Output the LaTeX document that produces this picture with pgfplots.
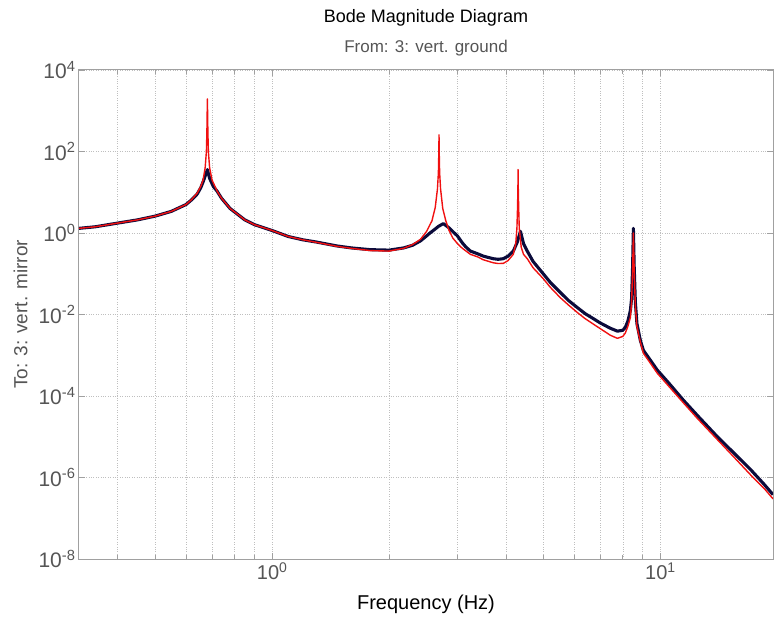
\documentclass[border=0pt]{standalone}
\usepackage{pgfplots}
\pgfplotsset{compat=1.18}
\usepackage{fontspec}
\setmainfont{Liberation Sans}
\definecolor{navy}{HTML}{0B0B3B}
\definecolor{redline}{HTML}{F01010}
\definecolor{txtgray}{HTML}{555555}
\definecolor{axgray}{HTML}{A0A0A0}
\begin{document}
\begin{tikzpicture}
\begin{axis}[
  name=ax,
  scale only axis,
  width=694pt, height=489pt,
  xmode=log, ymode=log,
  xmin=0.318, xmax=19.5, ymin=1e-8, ymax=1e4,
  xtick={1,10},
  xticklabels={10\textsuperscript{0},10\textsuperscript{1}},
  minor xtick={0.4,0.5,0.6,0.7,0.8,0.9,2,3,4,5,6,7,8,9},
  ytick={1e-8,1e-6,1e-4,1e-2,1,1e2,1e4},
  yticklabels={10\textsuperscript{-8},10\textsuperscript{-6},10\textsuperscript{-4},10\textsuperscript{-2},10\textsuperscript{0},10\textsuperscript{2},10\textsuperscript{4}},
  yminorticks=false,
  xmajorgrids, xminorgrids, ymajorgrids,
  grid style={dotted, gray!50},
  minor grid style={dotted, gray!50},
  axis line style={axgray, line width=1pt},
  tick style={axgray, line width=0.8pt},
  tick align=inside,
  major tick length=6pt, minor tick length=4pt,
  tick label style={font=\fontsize{20}{20}\selectfont, text=txtgray},
  yticklabel style={font=\fontsize{21}{21}\selectfont},
  xlabel={Frequency (Hz)},
  xlabel style={font=\fontsize{20}{20}\selectfont, text=black, yshift=-8pt},
  ylabel={To: 3: vert. mirror},
  ylabel style={font=\fontsize{19}{19}\selectfont, text=txtgray, yshift=4pt},
  title={Bode Magnitude Diagram\\[12pt]{\color{txtgray}\fontsize{17}{17}\selectfont From: 3: vert. ground}},
  title style={font=\fontsize{18}{18}\selectfont, align=center, yshift=4pt},
]
\addplot[navy, line width=3.1pt, line join=round] coordinates {
(0.318,1.30) (0.35,1.42) (0.4,1.75) (0.45,2.1) (0.5,2.6) (0.55,3.4) (0.6,5.0) (0.62,6.5)
(0.641,9.0) (0.655,13) (0.664,18) (0.674,27) (0.681,36)
(0.69,22) (0.705,14) (0.722,10.5) (0.74,7.2) (0.76,5.3) (0.779,4.0) (0.81,3.0) (0.85,2.1) (0.9,1.6)
(0.95,1.35) (1.0,1.15) (1.1,0.82) (1.2,0.68) (1.3,0.60) (1.47,0.48) (1.6,0.43) (1.79,0.39) (2.0,0.38)
(2.18,0.43) (2.3,0.5) (2.41,0.64) (2.48,0.8) (2.55,1.0) (2.62,1.22)
(2.68,1.45) (2.76,1.70) (2.85,1.35) (2.92,1.08) (3.0,0.85) (3.09,0.57) (3.15,0.46) (3.24,0.36)
(3.38,0.31) (3.5,0.27) (3.71,0.234) (3.82,0.226)
(3.94,0.234) (4.05,0.27) (4.18,0.36) (4.28,0.6) (4.36,1.1) (4.44,0.55) (4.54,0.36) (4.7,0.2)
(4.99,0.10) (5.2,0.062) (5.52,0.035) (5.8,0.022)
(6.11,0.0148) (6.4,0.0105) (6.72,0.0079) (7.0,0.0062) (7.43,0.0046) (7.75,0.0039) (8.0,0.0041)
(8.12,0.0048) (8.25,0.007) (8.37,0.0126) (8.43,0.025) (8.48,0.15)
(8.52,1.3) (8.56,0.15) (8.62,0.02) (8.7,0.006) (8.88,0.0023) (9.04,0.00132) (9.4,7.8e-4)
(9.82,4.3e-4) (10.5,2.1e-4) (11.46,7.9e-5) (12.5,3.2e-5)
(14.02,1.0e-5) (15.5,3.9e-6) (17.06,1.58e-6) (18.5,6.8e-7) (19.5,3.8e-7)
};
\addplot[redline, line width=1.4pt, line join=round] coordinates {
(0.318,1.30) (0.35,1.42) (0.4,1.75) (0.45,2.1) (0.5,2.6) (0.55,3.4) (0.6,5.0) (0.62,6.6)
(0.641,9.5) (0.655,14) (0.664,20) (0.672,40) (0.677,100) (0.679,300)
(0.681,1950) (0.683,300) (0.685,100) (0.69,40) (0.70,20) (0.722,10.5) (0.74,7.2) (0.76,5.3)
(0.779,4.0) (0.81,3.0) (0.85,2.1)
(0.9,1.6) (0.95,1.35) (1.0,1.15) (1.1,0.82) (1.2,0.68) (1.3,0.59) (1.47,0.47) (1.6,0.42)
(1.79,0.37) (2.0,0.36) (2.18,0.42) (2.3,0.52)
(2.41,0.70) (2.5,1.1) (2.58,2.0) (2.63,4.2) (2.665,12) (2.68,30) (2.687,100) (2.69,257)
(2.693,100) (2.70,30) (2.715,12) (2.75,4.0) (2.8,2.0) (2.85,1.2)
(2.92,0.75) (3.0,0.55) (3.09,0.42) (3.24,0.30) (3.38,0.26) (3.5,0.22) (3.71,0.186) (3.82,0.178)
(3.94,0.180) (4.05,0.21) (4.18,0.3)
(4.24,0.55) (4.27,1.3) (4.285,4) (4.295,12) (4.30,36) (4.305,12) (4.315,4) (4.33,1.3) (4.38,0.45)
(4.44,0.30) (4.54,0.234) (4.7,0.14) (4.99,0.076) (5.2,0.047)
(5.52,0.026) (5.8,0.017) (6.11,0.0112) (6.4,0.0079) (6.72,0.0058) (7.0,0.0045) (7.43,0.0031)
(7.75,0.0026) (8.0,0.0029) (8.12,0.0035) (8.25,0.0052) (8.37,0.0085)
(8.43,0.02) (8.48,0.12) (8.52,1.0) (8.56,0.12) (8.62,0.016) (8.7,0.005) (8.88,0.0021)
(9.04,0.00112) (9.4,6.6e-4) (9.82,3.6e-4) (10.5,1.75e-4)
(11.46,6.8e-5) (12.5,2.7e-5) (14.02,8.5e-6) (15.5,3.1e-6) (17.06,1.17e-6) (18.5,5.4e-7)
(19.5,3.0e-7)
};
\end{axis}
\pgfresetboundingbox
\path ([xshift=-79pt,yshift=-67pt]ax.south west) rectangle ([xshift=2pt,yshift=70pt]ax.north east);
\end{tikzpicture}
\end{document}
